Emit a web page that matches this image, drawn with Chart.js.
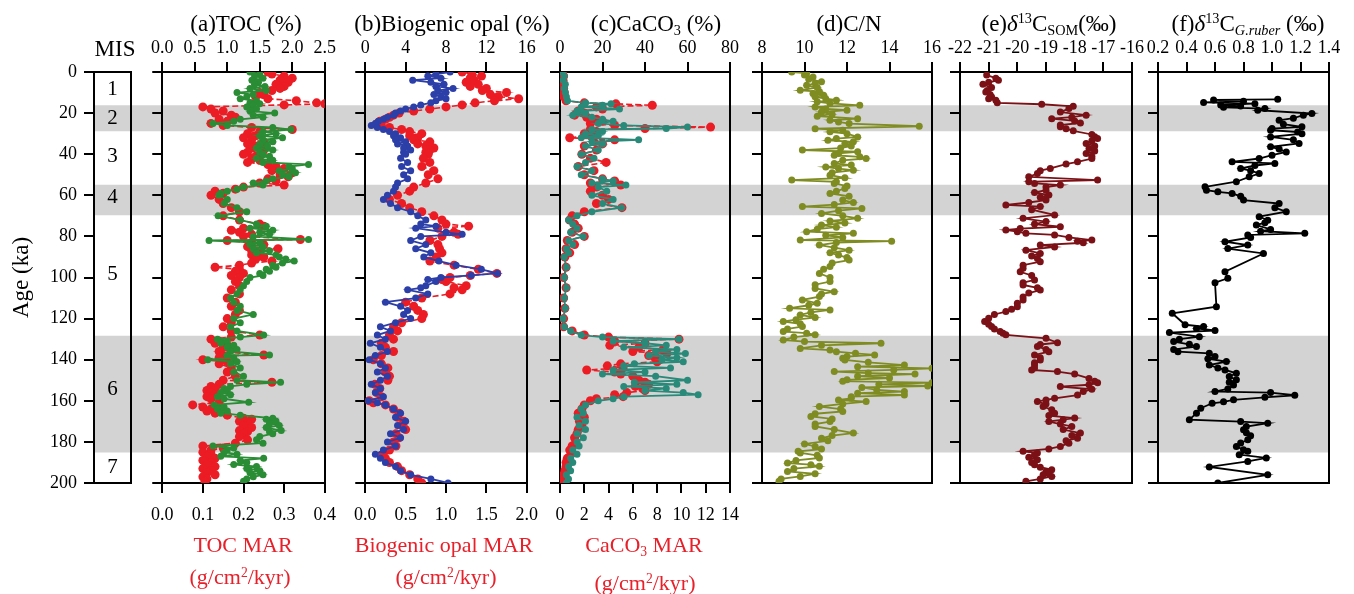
<!DOCTYPE html>
<html><head><meta charset="utf-8">
<script src="https://cdn.jsdelivr.net/npm/chart.js@4.4.1/dist/chart.umd.min.js"></script>
<style>
html,body{margin:0;padding:0;background:#fff;width:1354px;height:594px;overflow:hidden;}
#wrap{position:relative;width:1354px;height:594px;font-family:"Liberation Serif",serif;}
canvas{position:absolute;}
.t{position:absolute;transform:translate(-50%,-50%);white-space:nowrap;font-size:23px;line-height:1;color:#000;z-index:5;}
.r{color:#e8202a;font-size:22px;}
sup{font-size:62%;vertical-align:0;position:relative;top:-0.55em;}
sub{font-size:62%;vertical-align:0;position:relative;top:0.3em;}
</style></head><body><div id="wrap">
<div class="t" style="left:246px;top:22.5px">(a)TOC (%)</div>
<div class="t" style="left:452px;top:22.5px">(b)Biogenic opal (%)</div>
<div class="t" style="left:656px;top:22.5px">(c)CaCO<sub>3</sub> (%)</div>
<div class="t" style="left:849px;top:22.5px">(d)C/N</div>
<div class="t" style="left:1049px;top:22.5px">(e)<i>δ</i><sup>13</sup>C<sub>SOM</sub>(‰)</div>
<div class="t" style="left:1248px;top:22.5px">(f)<i>δ</i><sup>13</sup>C<sub><i>G.ruber</i></sub> (‰)</div>
<div class="t" style="left:115px;top:48px">MIS</div>
<div class="t r" style="left:243px;top:545px">TOC MAR</div>
<div class="t r" style="left:240px;top:577px">(g/cm<sup>2</sup>/kyr)</div>
<div class="t r" style="left:444px;top:545px">Biogenic opal MAR</div>
<div class="t r" style="left:446px;top:577px">(g/cm<sup>2</sup>/kyr)</div>
<div class="t r" style="left:644px;top:545px">CaCO<sub>3</sub> MAR</div>
<div class="t r" style="left:645px;top:583px">(g/cm<sup>2</sup>/kyr)</div>
</div>
<script>
// ---------- data ----------
const bandStart = [16.4, 55, 128.5];
const bandEnd   = [28.7, 69.6, 185];
const misLabels  = ['1','2','3','4','5','6','7'];
const misCenters = [8.3, 22.5, 41.2, 61, 98.4, 154.3, 192.5];

// (a) [age ka, value]
const aTocPct = [[0,1.35],[1,1.5],[2,1.42],[3,1.55],[4,1.38],[5,1.48],[6,1.42],[7,1.58],[8,1.35],[9,1.6],[10,1.15],[11,1.4],[12,1.3],[13,1.2],[14,1.45],[15,1.35],[15.5,1.5],[16,1.4],[17,1.3],[18,1.45],[19,1.35],[20,1.73],[21,1.4],[22,1.55],[23,1.2],[24,1.1],[25,0.78],[26,1.0],[27,1.7],[28,1.98],[29,1.55],[30,1.75],[31,1.5],[32,1.85],[33,1.55],[34,1.7],[35,1.5],[36,1.62],[37,1.45],[38,1.7],[39,1.5],[40,1.55],[41,1.65],[42,1.45],[43,1.7],[44,1.55],[45,2.25],[46,1.95],[47,2.0],[48,1.8],[49,2.05],[50,1.85],[51,1.95],[52,1.7],[53,1.6],[54,1.4],[55,1.55],[56,1.25],[57,1.15],[58,1.0],[59,0.9],[60,0.87],[62,1.0],[64,0.95],[66,1.15],[68,1.3],[70,0.86],[72,1.2],[74,1.45],[75,1.6],[76,1.35],[77,1.7],[78,1.5],[79,1.65],[80,1.4],[81.5,2.25],[82,0.72],[83,1.5],[84,1.35],[85,1.55],[86,1.4],[87,1.65],[88,1.45],[89,1.75],[90,1.8],[91,1.9],[92,2.03],[93,1.85],[94,1.7],[95,1.75],[96,1.6],[97,1.65],[98,1.5],[99,1.55],[100,1.35],[102,1.3],[104,1.25],[106,1.2],[108,1.15],[110,1.05],[112,1.1],[114,1.2],[116,1.15],[118,1.4],[120,1.1],[122,1.2],[124,1.05],[126,1.15],[128,1.56],[129,1.2],[130,0.85],[131,1.0],[132,0.9],[133,1.1],[134,1.0],[135,1.15],[136,1.05],[137.7,1.65],[138,1.0],[139,1.1],[140,0.7],[141,1.15],[142,1.05],[144,1.2],[146,1.1],[148,1.25],[150,1.15],[151,1.82],[152,1.3],[153,1.05],[154,0.95],[155,1.0],[156,0.9],[157,1.05],[158,0.85],[159,0.95],[160.7,1.33],[162,0.8],[163,0.95],[164,0.85],[165,1.0],[166,0.9],[167,1.2],[168.5,1.7],[169,1.6],[170,1.75],[171,1.65],[172,1.8],[173,1.6],[174.5,1.83],[175,1.65],[176,1.7],[177.4,1.5],[179,1.45],[180.6,1.55],[182,0.78],[183,1.1],[184,1.0],[185,0.95],[186,1.15],[187,0.9],[188,1.56],[189,1.2],[190,1.3],[191,1.1],[192,1.45],[193,1.3],[194,1.5],[195,1.35],[196,1.55],[197,1.4],[198,1.3],[199.2,1.25]];
const aTocMar = [[0,0.26],[1,0.27],[2,0.3],[3,0.32],[4,0.29],[5,0.31],[6,0.28],[7,0.3],[8,0.29],[9,0.27],[10,0.24],[11,0.25],[12,0.23],[13,0.26],[14,0.33],[15,0.38],[15.5,0.4],[16,0.3],[17,0.1],[18,0.12],[19,0.15],[20,0.13],[21,0.17],[22,0.18],[23,0.14],[24,0.16],[25,0.12],[26,0.15],[27,0.22],[28,0.32],[29,0.24],[30,0.21],[31,0.23],[32,0.2],[33,0.22],[34,0.25],[35,0.21],[36,0.23],[37,0.22],[38,0.25],[39,0.21],[40,0.2],[41,0.23],[42,0.22],[43,0.24],[44,0.21],[45,0.26],[46,0.28],[47,0.3],[48,0.27],[49,0.32],[50,0.29],[51,0.31],[52,0.26],[53,0.28],[54,0.24],[55,0.3],[56,0.2],[57,0.18],[58,0.13],[59,0.15],[60,0.12],[62,0.14],[64,0.15],[66,0.17],[68,0.19],[70,0.15],[72,0.19],[74,0.24],[75,0.25],[76,0.2],[77,0.17],[78,0.19],[79,0.22],[80,0.2],[81.5,0.34],[82,0.16],[83,0.22],[84,0.25],[85,0.21],[86,0.285],[87,0.22],[88,0.24],[89,0.22],[90,0.25],[91,0.23],[92,0.27],[93,0.22],[94,0.19],[95,0.13],[96,0.19],[97,0.18],[98,0.2],[99,0.17],[100,0.19],[102,0.18],[104,0.19],[106,0.17],[108,0.19],[110,0.16],[112,0.18],[114,0.17],[116,0.19],[118,0.18],[120,0.16],[122,0.17],[124,0.15],[126,0.17],[128,0.24],[129,0.17],[130,0.12],[131,0.14],[132,0.13],[133,0.16],[134,0.15],[135,0.17],[136,0.14],[137.7,0.25],[138,0.15],[139,0.14],[140,0.1],[141,0.16],[142,0.14],[144,0.17],[146,0.16],[148,0.18],[150,0.15],[151,0.27],[152,0.14],[153,0.12],[154,0.13],[155,0.11],[156,0.12],[157,0.13],[158,0.11],[159,0.12],[160.7,0.14],[162,0.075],[163,0.1],[164,0.12],[165,0.11],[166,0.13],[167,0.16],[168.5,0.2],[169,0.22],[170,0.19],[171,0.21],[172,0.2],[173,0.22],[174.5,0.19],[175,0.21],[176,0.2],[177.4,0.19],[179,0.21],[180.6,0.18],[182,0.1],[183,0.15],[184,0.12],[185,0.1],[186,0.12],[187,0.11],[188,0.13],[189,0.1],[190,0.12],[191,0.11],[192,0.13],[193,0.1],[194,0.12],[195,0.11],[196,0.13],[197,0.1],[198,0.11],[199.2,0.105]];

// (b)
const bOpalPct = [[0,8.4],[1,7.0],[2,6.2],[3,7.5],[4,4.7],[5,6.5],[6,7.8],[7,7.0],[8,8.7],[9,7.2],[10,8.0],[11,6.8],[12,7.5],[13,8.0],[14,7.0],[15,6.5],[16,5.5],[17,4.8],[18,4.0],[19,3.5],[20,3.0],[21,2.8],[22,2.2],[23,1.8],[24,1.3],[25,1.0],[26,0.6],[27,1.2],[28,1.8],[29,2.4],[30,3.0],[31,2.8],[32,3.5],[33,3.0],[34,4.0],[35,3.2],[36,4.2],[37,3.8],[38,4.5],[39,3.8],[40,4.0],[42,3.5],[44,4.2],[46,3.6],[48,4.5],[50,3.8],[52,4.2],[54,3.2],[56,3.0],[58,2.8],[60,2.2],[62,1.8],[64,2.5],[66,3.2],[68,4.5],[70,5.2],[72,6.0],[74,5.5],[75,7.0],[76,5.0],[78,8.0],[79,9.6],[80,5.5],[82,4.5],[84,6.0],[86,5.0],[88,6.5],[90,5.8],[92,7.3],[94,9.0],[96,11.5],[98,13.1],[99,10.5],[100,7.5],[101,6.2],[102,7.0],[104,6.0],[105,5.5],[106,4.2],[108,6.2],[110,5.0],[112,2.0],[114,3.5],[116,4.2],[118,3.8],[120,4.5],[122,3.0],[124,1.5],[126,2.5],[128,1.2],[130,2.0],[132,0.5],[134,1.5],[136,2.2],[138,1.0],[140,0.4],[142,1.5],[144,2.0],[146,1.2],[148,2.2],[150,1.5],[152,0.6],[154,1.5],[156,1.0],[158,1.8],[160,0.3],[161,1.2],[162,2.0],[164,2.8],[166,3.5],[168,3.0],[170,4.0],[172,3.2],[174,3.8],[176,2.5],[178,3.5],[180,2.2],[182,3.0],[184,1.8],[186,1.0],[188,1.5],[190,2.0],[192,3.0],[194,3.5],[196,4.5],[198,6.5],[200,8.2]];
const bOpalMar = [[0,1.2],[1,1.32],[2,1.44],[3,1.3],[4,1.35],[5,1.25],[6,1.4],[7,1.3],[8,1.5],[9,1.45],[10,1.75],[11,1.55],[12,1.65],[13,1.9],[14,1.6],[15,1.36],[16,1.2],[17,1.0],[18,0.8],[19,0.6],[20,0.42],[21,0.35],[22,0.3],[23,0.25],[24,0.18],[25,0.15],[26,0.2],[27,0.3],[28,0.45],[29,0.55],[30,0.7],[31,0.55],[32,0.65],[33,0.6],[34,0.8],[35,0.65],[36,0.75],[37,0.85],[38,0.8],[39,0.75],[40,0.78],[42,0.72],[44,0.8],[46,0.7],[48,0.85],[50,0.78],[52,0.9],[54,0.75],[56,0.6],[58,0.55],[60,0.4],[62,0.3],[64,0.45],[66,0.55],[68,0.7],[70,0.85],[72,0.95],[74,1.0],[75,1.28],[76,0.9],[78,1.1],[79,1.15],[80,0.95],[82,0.8],[84,0.9],[86,0.92],[88,0.95],[90,0.88],[92,0.8],[94,1.1],[96,1.4],[98,1.63],[99,1.3],[100,1.05],[101,0.95],[102,1.0],[104,1.25],[105,1.1],[106,1.2],[108,1.05],[110,0.7],[112,0.5],[114,0.6],[116,0.65],[118,0.72],[120,0.7],[122,0.45],[124,0.35],[126,0.4],[128,0.3],[130,0.35],[132,0.2],[134,0.25],[136,0.35],[138,0.2],[140,0.1],[142,0.2],[144,0.28],[146,0.25],[148,0.3],[150,0.28],[152,0.12],[154,0.18],[156,0.14],[158,0.2],[160,0.05],[161,0.1],[162,0.25],[164,0.35],[166,0.42],[168,0.4],[170,0.48],[172,0.45],[174,0.5],[176,0.38],[178,0.42],[180,0.35],[182,0.38],[184,0.3],[186,0.22],[188,0.25],[190,0.3],[192,0.4],[194,0.45],[196,0.55],[198,0.65],[200,0.7]];

// (c)
const cCaco3Pct = [[0,1.0],[2,2.0],[4,1.5],[6,2.5],[8,2.0],[10,2.5],[12,3.0],[14,3.5],[15,12],[15.5,24],[16.2,20],[17,10],[18,28],[19,8],[20,12],[21,6],[22,15],[23,20],[24,25],[25,18],[26,30],[26.8,60],[27.5,50],[28,15],[29,20],[30,12],[31,18],[32,10],[33,37],[34,15],[35,20],[36,12],[38,18],[40,10],[42,16],[44,12],[46,8],[48,15],[50,10],[52,20],[53,25],[54,15],[55,31],[56,18],[58,22],[60,15],[62,25],[64,20],[66,29],[68,15],[70,8],[72,4],[74,6],[76,8],[78,5],[80,11],[82,4],[84,6],[86,3],[88,4],[90,2],[95,3],[100,2],[105,3],[110,2],[115,2.5],[120,1.5],[124,2],[126,5],[128,10],[129,20],[130,56],[131,25],[132,40],[133,50],[134,30],[135,55],[136,45],[137,59],[138,42],[139,55],[140,48],[141,58],[142,35],[143,30],[144,52],[145,25],[146,40],[147,20],[148,45],[150,60],[151,35],[152,55],[153,30],[154,50],[155,40],[156,58],[157,65],[158,30],[159,25],[160,18],[162,12],[164,10],[166,11],[168,8],[170,12],[172,9],[174,12],[176,8],[178,11],[180,8],[182,9],[184,6],[186,8],[188,5],[190,6],[192,4],[194,5],[196,3],[198,4],[200,3]];
const cCaco3Mar = [[0,0.2],[2,0.3],[4,0.25],[6,0.3],[8,0.3],[10,0.35],[12,0.3],[14,0.5],[15,2.0],[15.5,4.6],[16.2,7.6],[17,3.0],[18,3.5],[19,1.5],[20,2.0],[21,1.2],[22,2.2],[23,3.0],[24,3.5],[25,2.5],[26,4.5],[26.8,12.4],[27.5,7.0],[28,2.5],[29,3.0],[30,2.0],[31,2.5],[32,0.8],[33,4.5],[34,2.8],[35,3.5],[36,2.0],[38,3.0],[40,1.8],[42,2.5],[44,3.8],[46,1.5],[48,2.8],[50,2.0],[52,3.5],[53,4.5],[54,2.5],[55,5.0],[56,3.0],[58,2.5],[60,3.5],[62,4.0],[64,3.0],[66,5.1],[68,2.0],[70,1.0],[72,0.8],[74,1.2],[76,1.5],[78,1.0],[80,2.0],[82,0.6],[84,1.2],[86,0.5],[88,0.8],[90,0.4],[95,0.5],[100,0.3],[105,0.5],[110,0.3],[115,0.4],[120,0.3],[124,0.3],[126,1.0],[128,2.0],[129,4.0],[130,9.8],[131,4.5],[132,7.0],[133,4.1],[134,6.5],[135,8.5],[136,6.0],[137,8.8],[138,7.3],[139,7.8],[140,8.2],[141,8.0],[142,5.0],[143,3.9],[144,5.2],[145,2.2],[146,4.5],[147,5.0],[148,6.0],[150,6.5],[151,7.0],[152,7.3],[153,6.2],[154,6.8],[155,7.0],[156,5.5],[157,4.5],[158,5.2],[159,3.0],[160,2.5],[162,2.0],[164,1.8],[166,1.5],[168,2.0],[170,1.6],[172,1.8],[174,1.5],[176,1.4],[178,1.2],[180,1.3],[182,1.0],[184,0.8],[186,0.9],[188,0.6],[190,0.5],[192,0.5],[194,0.4],[196,0.3],[198,0.3],[200,0.2]];

// (d)
const dCN = [[0,9.4],[0.5,10.1],[1.5,10.0],[2.4,10.4],[3.5,10.2],[4.8,10.8],[5.5,10.5],[6.5,10.1],[7.5,10.6],[8.9,9.8],[9.5,10.7],[10.5,10.4],[11.3,10.9],[12.1,10.5],[13,11.0],[13.7,11.5],[14.5,10.6],[15.3,11.2],[16.2,12.6],[17,10.5],[18,11.0],[18.6,12.0],[19.5,10.8],[20.5,11.3],[21.5,10.6],[22.7,12.5],[23.5,11.2],[24.3,11.6],[25.1,12.1],[26.4,15.4],[27.6,10.5],[28.3,11.8],[29.1,11.2],[30,12.0],[31.6,12.5],[32.4,11.5],[33.2,11.1],[34,12.3],[34.8,11.9],[36,12.2],[37,11.7],[38,9.9],[38.8,12.5],[39.6,11.6],[40.5,11.4],[41.3,12.6],[42.1,12.9],[43,11.8],[44.5,11.4],[45.3,12.2],[46.2,11.0],[47,11.6],[47.8,12.3],[49,11.3],[50.2,11.2],[51.5,11.9],[52.6,9.4],[53.4,11.5],[54.2,11.4],[55.5,12.0],[56.7,11.9],[58,11.5],[59.1,11.2],[60.5,12.1],[62.3,11.8],[63.5,12.3],[64.5,11.4],[65.5,9.9],[66.4,12.7],[67.5,11.6],[68.8,10.8],[70,11.8],[71.2,12.5],[72.5,11.2],[73.5,11.9],[74.5,10.8],[75.5,11.5],[76.5,10.6],[77.7,10.1],[78.5,12.3],[79.5,11.0],[80.5,11.8],[81.8,9.8],[82.3,14.1],[83,11.5],[84.2,10.7],[85.5,11.4],[86.7,12.1],[88,11.2],[89.1,11.6],[90.3,12.0],[91.5,12.1],[93,11.3],[94.7,11.2],[96,10.9],[98,10.7],[100,11.2],[102,11.2],[103.5,10.5],[105.3,10.5],[106.9,11.4],[108,10.8],[109.3,10.7],[110.9,9.9],[112.5,10.6],[113.5,10.2],[115,9.3],[115.8,11.2],[117,10.3],[118.2,9.8],[119.5,10.5],[120.5,9.6],[121.4,9.0],[122.5,9.8],[123.9,9.9],[125,9.2],[126.3,9.0],[127.1,10.1],[127.9,10.5],[129,9.5],[130.4,9.0],[131.2,10.0],[132,13.6],[133,10.8],[134.5,9.8],[135.3,11.2],[136.1,11.5],[136.9,12.4],[137.7,13.3],[138.5,12.0],[139.3,11.8],[140.1,11.9],[141.3,13.0],[142.6,14.7],[143.4,12.5],[144.2,16.0],[145,14.2],[145.8,11.4],[146.5,13.0],[147,15.2],[148,12.5],[148.9,14.0],[149.8,12.0],[150.5,11.8],[151.2,16.0],[152,13.5],[152.8,15.8],[153.5,12.7],[154.7,13.4],[155.5,14.7],[156.3,12.5],[157.2,14.7],[158,12.2],[158.8,12.2],[159.6,11.6],[160.4,12.9],[161.5,11.8],[162.8,10.7],[164,11.7],[165.2,11.8],[166.3,10.5],[167.6,10.3],[168.8,11.3],[170.1,11.2],[171.3,10.5],[172.5,10.5],[174,11.4],[175.7,12.3],[176.9,11.3],[178.2,10.8],[179.5,11.1],[181,10.0],[182.2,10.5],[183.5,10.8],[184.6,9.7],[185.4,9.8],[186.5,10.6],[187.8,10.7],[189,9.6],[190.3,9.2],[191.1,10.3],[191.9,10.7],[193,9.5],[194.4,9.2],[195.5,10.5],[196.8,9.8],[198,8.9],[199.2,8.8]];

// (e)
const eSOM = [[1.5,-21.07],[3,-20.75],[4,-20.66],[5,-21.0],[6,-21.2],[7.6,-20.9],[9,-21.05],[9.7,-21.1],[11,-20.95],[12.1,-20.9],[13,-21.0],[13.7,-20.75],[15,-20.7],[15.7,-19.15],[16.7,-18.05],[17.8,-18.2],[19.5,-18.5],[21,-17.6],[22,-18.1],[22.7,-18.8],[23.8,-18.0],[24.8,-17.8],[25.8,-18.5],[26.7,-18.5],[27.6,-18.3],[28.6,-18.05],[30.4,-17.4],[31.5,-17.3],[32.4,-17.2],[33.5,-17.4],[34.8,-17.6],[36,-17.3],[37.2,-17.5],[38.5,-17.3],[39.7,-17.6],[41,-17.4],[42.1,-17.4],[43.7,-17.9],[44.8,-18.3],[46.9,-18.85],[48,-19.2],[49.4,-19.3],[51,-19.6],[52.6,-17.2],[53.4,-19.6],[54.2,-19.4],[55,-18.5],[56,-19.0],[57.5,-19.0],[58.6,-19.4],[59.9,-18.9],[61,-19.2],[62.3,-19.0],[63.5,-19.6],[64.7,-20.4],[65.5,-19.2],[67,-19.5],[69.6,-18.7],[71.2,-19.8],[72.8,-19.0],[74,-19.4],[75.3,-18.5],[76.2,-19.9],[76.9,-20.4],[77.7,-20.0],[78.5,-19.7],[79.3,-18.7],[80.5,-18.2],[81.8,-17.4],[82.3,-17.9],[83.1,-17.7],[84.2,-19.2],[85.1,-18.7],[86.7,-19.7],[88.3,-19.2],[89.5,-19.5],[90.7,-19.3],[92.3,-19.2],[94,-19.8],[95.5,-19.8],[97.2,-19.9],[99,-19.5],[101.2,-19.4],[102.5,-19.8],[103.6,-19.8],[105,-19.3],[106.1,-19.2],[107.6,-19.6],[109.5,-19.8],[110.9,-19.8],[112.5,-20.0],[114.2,-20.0],[115.5,-20.2],[116.6,-20.4],[118,-20.8],[119.8,-21.0],[121.4,-21.14],[122.8,-21.0],[123.9,-20.9],[125,-20.8],[126.3,-20.6],[127.1,-20.5],[127.9,-20.4],[129.6,-19.0],[131.7,-18.6],[132.6,-19.2],[133.6,-19.3],[135,-19.0],[136.1,-18.9],[137.7,-19.4],[139,-19.2],[140.1,-19.2],[141.5,-19.4],[142.6,-19.4],[144,-19.4],[145,-19.5],[145.8,-18.6],[147,-18.0],[149.1,-17.5],[150.5,-17.3],[151.2,-17.2],[152.2,-17.5],[153.1,-18.5],[154.4,-17.4],[155.5,-17.7],[157.2,-17.9],[158.8,-18.7],[159.6,-19.0],[160.4,-19.3],[161.6,-19.0],[162.8,-19.1],[164.4,-18.8],[166,-18.7],[167.2,-18.9],[168.4,-18.0],[169.2,-18.4],[170.1,-18.9],[171.3,-18.5],[172.5,-18.1],[174,-18.4],[175.7,-17.8],[176.9,-18.1],[178.2,-17.9],[179.4,-18.3],[180.6,-18.2],[182.2,-18.5],[183.4,-18.9],[184.6,-19.8],[185.4,-19.3],[186.2,-19.4],[187.5,-19.6],[188.7,-19.3],[190,-19.5],[191.1,-19.4],[192.3,-19.2],[193.5,-18.8],[194.4,-19.0],[195.2,-18.9],[196,-19.1],[196.8,-18.8],[198,-19.2],[199.2,-19.7]];

// (f)
const fRuber = [[13.3,1.04],[13.6,0.59],[14.2,0.8],[14.8,0.52],[15.4,0.88],[16,0.64],[16.6,0.78],[17.2,0.66],[17.8,0.95],[18.6,0.9],[20.2,1.28],[21,1.22],[22.5,1.15],[23.5,1.05],[25.4,1.08],[26.7,1.21],[27.5,1.0],[28.3,0.99],[29.2,1.18],[30,1.21],[31.6,0.99],[33,1.15],[34.8,1.19],[36.4,0.99],[37.5,1.05],[38.9,1.1],[40.5,1.0],[42.1,0.91],[43.7,0.72],[44.5,1.02],[45.5,0.88],[47,0.78],[48,0.85],[49.4,0.91],[51,0.84],[53.4,0.75],[55.9,0.53],[57.5,0.54],[58.3,0.62],[59.1,0.72],[60.5,0.78],[62.3,0.8],[64,1.05],[66,1.02],[68,1.1],[70.4,0.91],[72.1,0.97],[73.3,0.95],[74.5,0.89],[76.6,0.99],[77.5,0.92],[78.5,1.23],[79.3,0.83],[80.5,0.85],[82.6,0.67],[84.2,0.83],[85.9,0.69],[88.3,0.94],[97.2,0.67],[100.4,0.69],[102.5,0.6],[114.2,0.61],[117.4,0.3],[123,0.39],[123.9,0.52],[124.8,0.47],[125.8,0.6],[126.8,0.28],[128.8,0.49],[130,0.35],[131.2,0.31],[132.5,0.42],[133.6,0.47],[135,0.31],[136.1,0.34],[136.9,0.56],[138.5,0.6],[139.5,0.55],[140.9,0.68],[142.6,0.56],[144,0.62],[145,0.67],[146.6,0.75],[148.2,0.7],[149.8,0.75],[151,0.7],[152.3,0.73],[154.2,0.69],[155.5,0.6],[156,0.99],[157.3,1.16],[158.3,0.95],[159.5,0.73],[160.5,0.66],[161.2,0.58],[163.6,0.5],[166,0.47],[169.2,0.42],[170.1,0.78],[170.9,0.97],[172.5,0.82],[174.1,0.8],[175.5,0.82],[177,0.85],[179,0.83],[180.5,0.78],[182.2,0.75],[183.8,0.8],[184.6,0.83],[186.2,0.77],[187.8,0.96],[189.5,0.83],[192.2,0.56],[196,0.97],[200,0.62]];

// ---------- layout / style ----------
const TOP = 72, BOT = 483, H = 594;
const FONT = '"Liberation Serif", serif';
const BLACK = '#000';
const RED = '#ec1c24';
const wrap = document.getElementById('wrap');
Chart.defaults.font.family = FONT;

function addCanvas(left, top, w, h, z){
  const c = document.createElement('canvas');
  c.width = w; c.height = h;
  c.style.left = left + 'px'; c.style.top = top + 'px';
  c.style.width = w + 'px'; c.style.height = h + 'px';
  c.style.zIndex = z;
  wrap.appendChild(c);
  return c;
}
const baseOpts = {responsive:false, animation:false, devicePixelRatio:1, events:[],
  plugins:{legend:{display:false}, tooltip:{enabled:false}, title:{display:false}}};

// background bands
(function(){
  const L = 94, R = 1329;
  const c = addCanvas(L, TOP, R - L, BOT - TOP, 0);
  new Chart(c, {type:'bar',
    data:{labels:['MIS'], datasets: bandStart.map((s,i)=>({data:[[s, bandEnd[i]]], backgroundColor:'#d3d3d3',
      borderWidth:0, barPercentage:1, categoryPercentage:1, grouped:false}))},
    options:Object.assign({}, baseOpts, {layout:{padding:0},
      scales:{x:{display:false}, y:{display:false, min:0, max:200, reverse:true}}})
  });
})();

function leftY(width, labels){
  return {type:'linear', position:'left', min:0, max:200, reverse:true, z:1,
    afterFit:s=>{s.width = width;},
    ticks:{display:labels, stepSize:20, autoSkip:false, color:BLACK, font:{family:FONT, size:18}, padding:7},
    grid:{drawOnChartArea:false, drawTicks:true, tickLength:10, color:BLACK, lineWidth:2},
    border:{display:true, color:BLACK, width:2},
    title: labels ? {display:true, text:'Age (ka)', color:BLACK, font:{family:FONT, size:23}, padding:{top:8, bottom:0}} : {display:false}};
}
function rightY(width){
  return {type:'linear', position:'right', min:0, max:200, reverse:true, z:1,
    afterFit:s=>{s.width = width;},
    ticks:{display:false}, grid:{display:false, drawOnChartArea:false, drawTicks:false},
    border:{display:true, color:BLACK, width:2}};
}
function xAxis(pos, spec, height){
  const has = !!spec;
  return {type:'linear', position:pos, min: has ? spec.min : 0, max: has ? spec.max : 1, z:1,
    afterFit:s=>{s.height = height;},
    ticks:{display:has, stepSize: has ? spec.step : 1, autoSkip:false, maxRotation:0, minRotation:0,
      color:BLACK, font:{family:FONT, size:18}, padding: pos === 'top' ? 3 : 11,
      callback:v=>Number(v).toFixed(has ? spec.dec : 0)},
    grid:{display:has, drawOnChartArea:false, drawTicks:has, tickLength:10, color:BLACK, lineWidth:2},
    border:{display:true, color:BLACK, width:2}};
}

// MIS column + age axis
(function(){
  const L = 94, R = 131, RM = 18;
  const c = addCanvas(0, 0, R + RM, H, 1);
  const misPlugin = {id:'misLabels', afterDraw(chart){
    const {ctx, chartArea, scales} = chart;
    ctx.save();
    ctx.font = '21px ' + FONT; ctx.fillStyle = BLACK;
    ctx.textAlign = 'center'; ctx.textBaseline = 'middle';
    misLabels.forEach((l,i)=>ctx.fillText(l, (chartArea.left + chartArea.right)/2, scales.y.getPixelForValue(misCenters[i])));
    ctx.restore();
  }};
  new Chart(c, {type:'scatter', data:{datasets:[]},
    options:Object.assign({}, baseOpts, {layout:{padding:0},
      scales:{y:leftY(L, true), yr:rightY(RM), xt:xAxis('top', null, TOP), xb:xAxis('bottom', null, H - BOT)}}),
    plugins:[misPlugin]});
})();

function pts(arr){ return arr.map(p=>({x:p[1], y:p[0]})); }
function series(arr, axis, color, r, dashed){
  return {data:pts(arr), xAxisID:axis, yAxisID:'y', showLine:true, borderColor:color, backgroundColor:color,
    pointBackgroundColor:color, pointBorderColor:color, pointBorderWidth:0, pointRadius:r,
    borderWidth: dashed ? 1.6 : 1.8, borderDash: dashed ? [6,3] : [], tension:0};
}

function panel(left, right, top, bottom, datasets){
  const LM = 18, RM = 18;
  const c = addCanvas(left - LM, 0, right - left + LM + RM, H, 2);
  new Chart(c, {type:'scatter', data:{datasets},
    options:Object.assign({}, baseOpts, {layout:{padding:0},
      scales:{y:leftY(LM, false), yr:rightY(RM), xt:xAxis('top', top, TOP), xb:xAxis('bottom', bottom, H - BOT)}})});
}

panel(158, 329, {min:0, max:2.5, step:0.5, dec:1}, {min:0, max:0.4, step:0.1, dec:1},
  [series(aTocPct, 'xt', '#2a8c34', 3.5), series(aTocMar, 'xb', RED, 4.5, true)]);
panel(361, 531, {min:0, max:16, step:4, dec:0}, {min:0, max:2, step:0.5, dec:1},
  [series(bOpalPct, 'xt', '#2c3fa8', 3.5), series(bOpalMar, 'xb', RED, 4.5, true)]);
panel(560, 732, {min:0, max:80, step:20, dec:0}, {min:0, max:14, step:2, dec:0},
  [series(cCaco3Pct, 'xt', '#2a8a7a', 3.5), series(cCaco3Mar, 'xb', RED, 4.5, true)]);
panel(762, 932, {min:8, max:16, step:2, dec:0}, null,
  [series(dCN, 'xt', '#7f8c22', 3.5)]);
panel(960, 1132, {min:-22, max:-16, step:1, dec:0}, null,
  [series(eSOM, 'xt', '#7b1116', 3.5)]);
panel(1158, 1329, {min:0.2, max:1.4, step:0.2, dec:1}, null,
  [series(fRuber, 'xt', '#000000', 3.5)]);
</script>
</body></html>
